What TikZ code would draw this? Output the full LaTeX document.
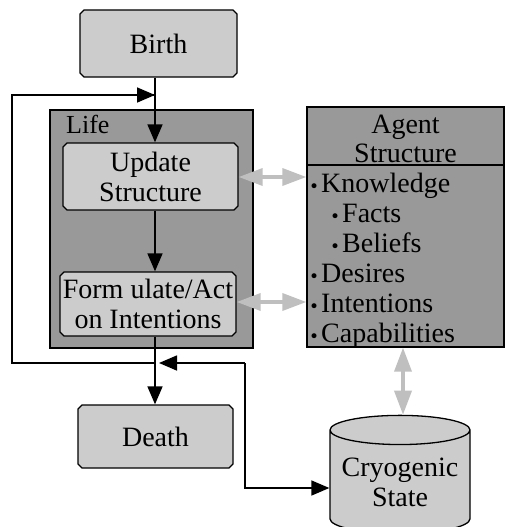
\documentclass[tikz,border=0pt]{standalone}
\usepackage{fontspec}
\setmainfont{Liberation Serif}
\newfontfamily\dotfont{DejaVu Sans}
\usepackage{tikz}
\usetikzlibrary{arrows.meta, positioning, shapes}
\usetikzlibrary{shapes.geometric, shapes.misc}

\newcommand{\itemdot}{{\dotfont\fontsize{17}{17}\selectfont •}\hspace{2pt}}

\tikzset{
	box/.style={draw, line width=1.3pt, fill=black!20, chamfered rectangle,
		chamfered rectangle xsep=2pt, chamfered rectangle ysep=2pt,
		inner sep=0pt, align=center, font=\fontsize{28}{30}\selectfont},
	bigbox/.style={box, fill=black!40},
	flow/.style={line width=1.6pt, -{Triangle[length=18pt, width=15pt]}},
	link/.style={line width=3.5pt, black!25, {Triangle[length=24pt, width=17pt]}-{Triangle[length=24pt, width=17pt]}},
	item/.style={anchor=base west, inner sep=0pt, font=\fontsize{28}{30}\selectfont}
}

\begin{document}
\begin{tikzpicture}[x=1pt, y=-1pt]
	
	% picture frame
	\clip (0, 0) rectangle (505, 527);
	
	% life cycle boxes
	\node[box, minimum width=157pt, minimum height=67pt] (birth) at (158.5, 43.5) {Birth};
	\node[bigbox, minimum width=203pt, minimum height=238pt] (life) at (151.5, 229) {};
	\node[anchor=base west, inner sep=0pt, font=\fontsize{26}{28}\selectfont] (lifelabel) at (66, 133) {Life};
	\node[box, minimum width=175pt, minimum height=67pt] (update) at (150.5, 176.5) {Update\\Structure};
	\node[box, minimum width=176pt, minimum height=64pt] (formulate) at (148, 304) {Form ulate/Act\\on Intentions};
	\node[box, minimum width=155pt, minimum height=63pt] (death) at (155.5, 436.5) {Death};
	
	% agent structure
	\node[bigbox, minimum width=197pt, minimum height=240pt] (agent) at (405.5, 227) {};
	\node[align=center, inner sep=0pt, font=\fontsize{28}{29}\selectfont] (agenthead) at (405.5, 139) {Agent\\Structure};
	\draw[line width=1.3pt] (agent.west |- 0, 165) coordinate (divl) -- (agent.east |- 0, 165) coordinate (divr);
	\foreach \y/\x/\t [count=\i] in {192/309/Knowledge, 222/330/Facts, 252/330/Beliefs,
		282/309/Desires, 312/309/Intentions, 342/309/Capabilities}
		\node[item] (k\i) at (\x, \y) {\itemdot\t};
	
	% cryogenic store
	\node[draw, line width=1.3pt, fill=black!20, cylinder, shape border rotate=90, aspect=0.25,
		minimum width=140pt, minimum height=118pt, inner sep=0pt, align=center,
		font=\fontsize{28}{30}\selectfont] (cryo) at (400, 482) {Cryogenic\\State};
	
	% main flow
	\coordinate (top) at (155, 95);
	\coordinate (low) at (155, 363);
	\coordinate (turn) at (245, 363);
	\draw[flow] (birth.south -| top) -- (update.north -| top);
	\draw[flow] (update.south -| top) -- (formulate.north -| top);
	\draw[flow] (formulate.south -| low) -- (death.north -| low);
	
	% loop back and cryogenic path
	\draw[line width=1.6pt] (low) -- (12, 363) |- (top);
	\draw[flow] (12, 95) -- (top);
	\draw[flow] (turn) -- ([xshift=4pt]low);
	\draw[flow] (turn) |- (cryo.west |- 0, 488);
	
	% structure links
	\draw[link] (update.east |- 0, 177) -- (agent.west |- 0, 177);
	\draw[link] (formulate.east |- 0, 302) -- (agent.west |- 0, 302);
	\draw[link] (agent.south -| 403, 0) -- (cryo.north -| 403, 0);
	
\end{tikzpicture}
\end{document}
